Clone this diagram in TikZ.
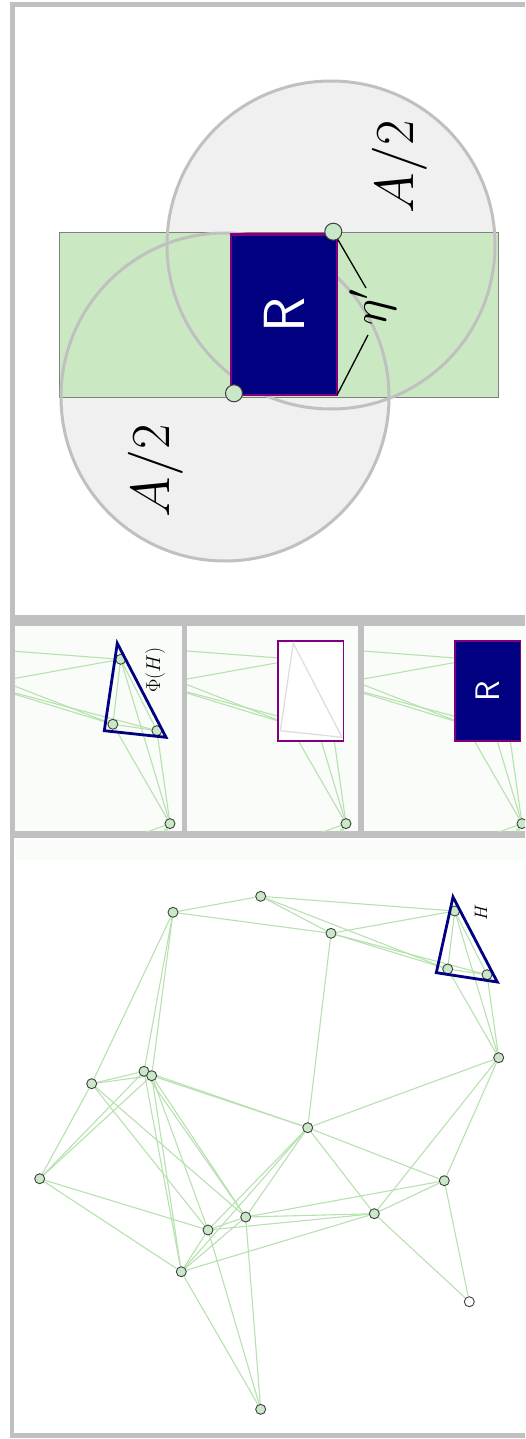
\RequirePackage{fix-cm}
\documentclass[tikz,border=0pt]{standalone}
\definecolor{framegray}{RGB}{192,192,192}
\definecolor{linkgreen}{RGB}{184,225,176}
\definecolor{vtxfill}{RGB}{200,232,200}
\definecolor{vtxdraw}{RGB}{64,64,64}
\definecolor{hnavy}{RGB}{0,0,128}
\definecolor{rpurple}{RGB}{128,0,128}
\definecolor{panelbg}{RGB}{249,252,248}
\definecolor{discfill}{RGB}{240,240,240}
\definecolor{regiongreen}{RGB}{202,233,195}
\definecolor{ghostgray}{RGB}{220,220,220}

\pgfdeclarelayer{panels}
\pgfdeclarelayer{links}
\pgfsetlayers{panels,links,main}

\tikzset{
  vtx/.style={circle, fill=vtxfill, draw=vtxdraw, line width=0.9pt, inner sep=0pt, minimum size=10pt},
  vtxopen/.style={vtx, fill=white},
  link/.style={draw=linkgreen, line width=1.1pt},
  tri/.style={draw=hnavy, line width=2.8pt, line join=miter},
  cornerdot/.style={circle, fill=vtxfill, draw=vtxdraw, line width=1pt, inner sep=0pt, minimum size=17pt},
  disc/.style={fill=discfill},
  discrim/.style={draw=framegray, line width=3pt},
  lbl/.style={inner sep=0pt, rotate=90},
}

% vertices of the graph, named with a prefix
\newcommand\graphnodes[1]{%
  \foreach \n/\px/\py in {1/173/912.3, 2/260.7/896.3, 3/91.7/1083.7, 4/144/1071.3,
      5/151.7/1075.7, 7/331/933.3, 8/454.7/911, 9/447.7/969, 10/487/974.7,
      11/498.7/1057.7, 12/307.7/1127.7, 13/39.7/1178.7, 14/245.7/1217,
      15/208/1230, 16/181.3/1271.7, 17/260.7/1409.3, 18/444.3/1180.7, 19/374.3/1213.7}
    \node[vtx] (#1\n) at (\px,\py) {};
  \node[vtxopen] (#1v20) at (469.3,1301.7) {};
}
% edges of the graph between the named vertices
\newcommand\graphlinks[1]{%
  \foreach \a/\b in {1/2, 1/7, 1/3, 1/4, 1/5, 2/8, 2/7, 2/9, 7/8, 7/9, 7/10, 7/12,
      8/9, 8/10, 8/11, 9/10, 9/11, 10/11, 11/12, 11/18, 11/19,
      12/4, 12/5, 12/18, 12/19, 12/15, 12/16, 12/14, 18/19, 18/14,
      19/14, 19/15, 19/16, 14/15, 14/17, 15/17, 16/17, 16/13, 15/13,
      13/3, 13/4, 13/5, 3/4, 3/5, 3/14, 3/15, 4/16, 5/16, 5/14, 4/14, 5/15,
      16/14, 16/15}
    \path[link] (#1\a) -- (#1\b);
  \path[link] (#118) -- (#1v20);
  \path[link] (#119) -- (#1v20);
}

\begin{document}
\begin{tikzpicture}[x=1pt, y=-1pt]
\useasboundingbox (0,0) rectangle (525,1439);

% frames and panel grounds
\begin{pgfonlayer}{panels}
  \fill[white] (0,0) rectangle (525,1439);
  \fill[framegray] (10,2) rectangle (525,1438);
  \fill[white] (15,7) rectangle (525,615);
  \fill[panelbg] (15,626) rectangle (181.7,831);
  \fill[panelbg] (186.8,626) rectangle (358.2,831);
  \fill[panelbg] (364.2,626) rectangle (525,831);
  \fill[white] (14,838) rectangle (525,1433);
  \fill[panelbg] (15,839.5) rectangle (525,860);
\end{pgfonlayer}

% ---------- upper panel: two discs, strip and the box R ----------
\fill[disc] (331,245) circle[radius=164];
\fill[disc] (225,397) circle[radius=164];
\draw[draw=gray, line width=1pt, fill=regiongreen] (59.6,232.3) rectangle (498.8,397.7);
\draw[discrim] (331,245) circle[radius=164];
\draw[discrim] (225,397) circle[radius=164];
\node[draw=rpurple, fill=hnavy, line width=2.5pt, inner sep=0pt, outer sep=0pt,
      minimum width=106pt, minimum height=160.3pt] (rbox) at (284.2,314.6) {};
\node[lbl, text=white, font=\sffamily\fontsize{58}{58}\selectfont] (rlabel) at (rbox.center) {R};
\node[cornerdot] (cdotA) at (333.3,231.7) {};
\node[cornerdot] (cdotB) at (234,393.3) {};
\node[lbl, font=\fontsize{50}{50}\selectfont] (eta) at (373,307) {$\eta'$};
\coordinate (etaTop) at (366,288);
\coordinate (etaBot) at (368,335);
\draw[line width=1.3pt] (cdotA) -- (etaTop);
\draw[line width=1.3pt] (rbox.south east) -- (etaBot);
\node[lbl, font=\fontsize{55}{55}\selectfont] (halfA) at (400,167) {$A/2$};
\node[lbl, font=\fontsize{55}{55}\selectfont] (halfB) at (156,471) {$A/2$};

% ---------- lower panel: the graph with the triangle H ----------
\graphnodes{b}
\begin{pgfonlayer}{links}
  \graphlinks{b}
\end{pgfonlayer}
\draw[tri] (453,897) -- (436.3,972.7) -- (497.3,982) -- cycle;
\node[lbl, font=\fontsize{18}{18}\selectfont] (hlabel) at (481,912.5) {$H$};

% ---------- small panel 1: close view with Phi(H) ----------
\begin{scope}
  \clip (15,626) rectangle (181.7,831);
  \begin{scope}[shift={(120.7,659.3)}, scale=1.12, shift={(-454.7,-911)}]
    \graphnodes{p}
  \end{scope}
  \draw[tri] (117.3,643.3) -- (104.3,730.7) -- (166,737.3) -- cycle;
  \node[lbl, font=\fontsize{20}{20}\selectfont] (philabel) at (155,670) {$\Phi(H)$};
\end{scope}
\begin{pgfonlayer}{links}
  \begin{scope}
    \clip (15,626) rectangle (181.7,831);
    \graphlinks{p}
  \end{scope}
\end{pgfonlayer}

% ---------- small panel 2: bounding box of the triangle ----------
\begin{scope}
  \clip (186.8,626) rectangle (358.2,831);
  \begin{scope}[shift={(296.7,659.3)}, scale=1.12, shift={(-454.7,-911)}]
    \graphnodes{q}
  \end{scope}
  \node[draw=rpurple, fill=white, line width=1.5pt, inner sep=0pt,
        minimum width=65.3pt, minimum height=100pt] (qbox) at (310.6,691) {};
  \draw[ghostgray, line width=1.2pt] (293.3,643.3) -- (280.3,730.7) -- (342,737.3) -- cycle;
\end{scope}
\begin{pgfonlayer}{links}
  \begin{scope}
    \clip (186.8,626) rectangle (358.2,831);
    \graphlinks{q}
  \end{scope}
\end{pgfonlayer}

% ---------- small panel 3: the filled box R ----------
\begin{scope}
  \clip (364.2,626) rectangle (525,831);
  \begin{scope}[shift={(472.7,659.3)}, scale=1.12, shift={(-454.7,-911)}]
    \graphnodes{r}
  \end{scope}
  \node[draw=rpurple, fill=hnavy, line width=1.5pt, inner sep=0pt,
        minimum width=65.3pt, minimum height=100pt] (sbox) at (487.6,691) {};
  \node[lbl, text=white, font=\sffamily\fontsize{34}{34}\selectfont] (slabel) at (sbox.center) {R};
\end{scope}
\begin{pgfonlayer}{links}
  \begin{scope}
    \clip (364.2,626) rectangle (525,831);
    \graphlinks{r}
  \end{scope}
\end{pgfonlayer}
\end{tikzpicture}
\end{document}
